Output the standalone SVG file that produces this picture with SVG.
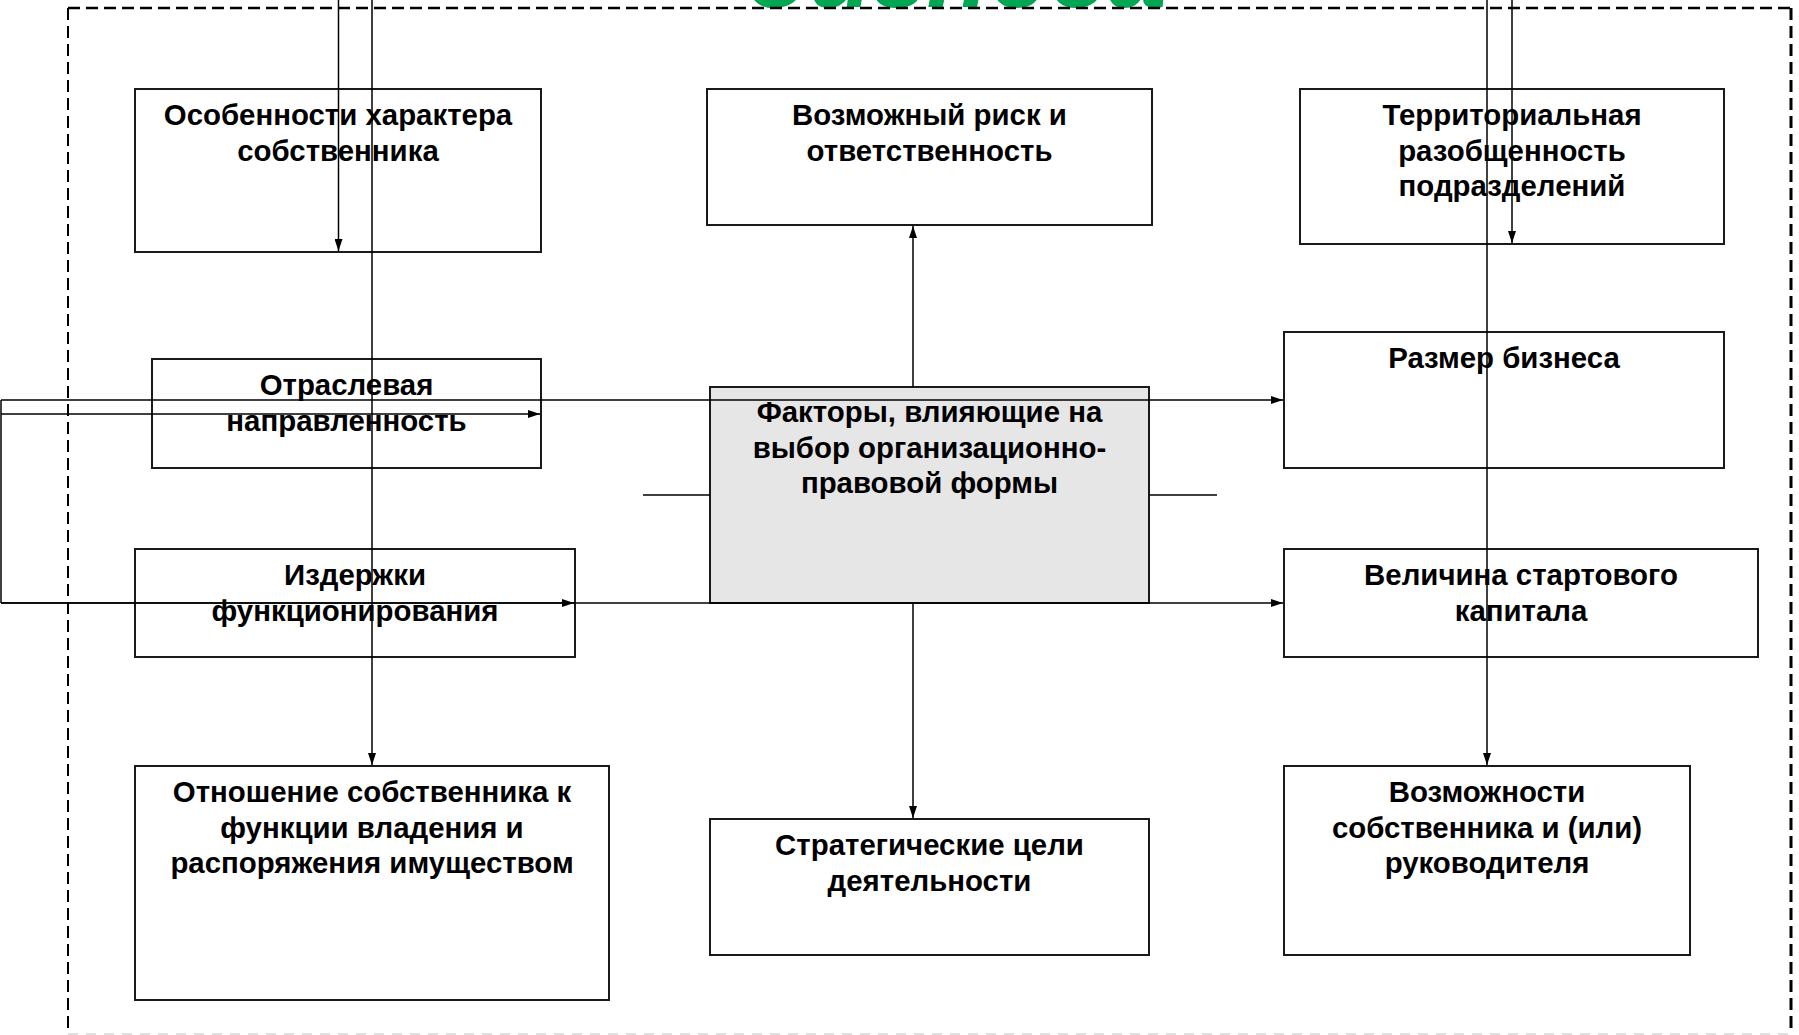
<svg xmlns="http://www.w3.org/2000/svg" width="1799" height="1035" viewBox="0 0 1799 1035">
<style>
.box{fill:#fff;stroke:#1a1a1a;stroke-width:2}
.core{fill:#e6e6e6;stroke:#1a1a1a;stroke-width:2}
.t{font-family:"Liberation Sans",Arial,sans-serif;font-weight:bold;font-size:29.4px;fill:#000;text-anchor:middle}
.c{fill:none;stroke:#000;stroke-width:1.5}
.b{fill:none;stroke:#000;stroke-dasharray:12 6}
</style>
<defs>
<marker id="ah" markerUnits="userSpaceOnUse" markerWidth="12" markerHeight="8" refX="12" refY="4" orient="auto">
<path d="M0,0 L12,4 L0,8 z" fill="#000"/>
</marker>
</defs>
<rect width="1799" height="1035" fill="#fff"/>
<text x="955" y="6.5" font-family="Liberation Sans,Arial,sans-serif" font-weight="bold" font-style="italic" font-size="105" fill="#00a651" text-anchor="middle">бизнеса</text>
<g id="border">
<line class="b" x1="68" y1="8" x2="1791" y2="8" stroke-width="2.5"/>
<line class="b" x1="68" y1="8" x2="68" y2="1034" stroke-width="2"/>
<line class="b" x1="1791" y1="8" x2="1791" y2="1034" stroke-width="3"/>
<line x1="68" y1="1034" x2="1791" y2="1034" stroke="#e0e0e0" stroke-width="2" stroke-dasharray="10 8"/>
</g>
<g id="n-owner-character">
<rect class="box" x="135" y="89" width="406" height="163"/>
<text class="t" x="338" y="125">Особенности характера</text>
<text class="t" x="338" y="160.5">собственника</text>
</g>
<g id="n-risk">
<rect class="box" x="707" y="89" width="445" height="136"/>
<text class="t" x="929.5" y="125">Возможный риск и</text>
<text class="t" x="929.5" y="160.5">ответственность</text>
</g>
<g id="n-territory">
<rect class="box" x="1300" y="89" width="424" height="155"/>
<text class="t" x="1512" y="125">Территориальная</text>
<text class="t" x="1512" y="160.5">разобщенность</text>
<text class="t" x="1512" y="196">подразделений</text>
</g>
<g id="n-industry">
<rect class="box" x="152" y="359" width="389" height="109"/>
<text class="t" x="346.5" y="395">Отраслевая</text>
<text class="t" x="346.5" y="430.5">направленность</text>
</g>
<g id="n-center">
<rect class="core" x="710" y="387" width="439" height="216"/>
<text class="t" x="929.5" y="422">Факторы, влияющие на</text>
<text class="t" x="929.5" y="457.5">выбор организационно-</text>
<text class="t" x="929.5" y="493">правовой формы</text>
</g>
<g id="n-size">
<rect class="box" x="1284" y="332" width="440" height="136"/>
<text class="t" x="1504" y="368">Размер бизнеса</text>
</g>
<g id="n-costs">
<rect class="box" x="135" y="549" width="440" height="108"/>
<text class="t" x="355" y="585">Издержки</text>
<text class="t" x="355" y="620.5">функционирования</text>
</g>
<g id="n-capital">
<rect class="box" x="1284" y="549" width="474" height="108"/>
<text class="t" x="1521" y="585">Величина стартового</text>
<text class="t" x="1521" y="620.5">капитала</text>
</g>
<g id="n-attitude">
<rect class="box" x="135" y="766" width="474" height="234"/>
<text class="t" x="372" y="802">Отношение собственника к</text>
<text class="t" x="372" y="837.5">функции владения и</text>
<text class="t" x="372" y="873">распоряжения имуществом</text>
</g>
<g id="n-goals">
<rect class="box" x="710" y="819" width="439" height="136"/>
<text class="t" x="929.5" y="855">Стратегические цели</text>
<text class="t" x="929.5" y="890.5">деятельности</text>
</g>
<g id="n-abilities">
<rect class="box" x="1284" y="766" width="406" height="189"/>
<text class="t" x="1487" y="802">Возможности</text>
<text class="t" x="1487" y="837.5">собственника и (или)</text>
<text class="t" x="1487" y="873">руководителя</text>
</g>
<g id="connectors">
<path class="c" d="M338.5,0 V251" marker-end="url(#ah)"/>
<path class="c" d="M372,0 V765" marker-end="url(#ah)"/>
<path class="c" d="M1487,0 V765" marker-end="url(#ah)"/>
<path class="c" d="M1512,0 V243" marker-end="url(#ah)"/>
<path class="c" d="M913,387 V226" marker-end="url(#ah)"/>
<path class="c" d="M913,603 V818" marker-end="url(#ah)"/>
<path class="c" d="M1,400 H1283" marker-end="url(#ah)"/>
<path class="c" d="M1,400 V603"/>
<path class="c" d="M1,603 H1283" marker-end="url(#ah)"/>
<path class="c" d="M1,414 H540" marker-end="url(#ah)"/>
<path class="c" d="M1,603 H574" marker-end="url(#ah)"/>
<path class="c" d="M643,495 H710" stroke-width="2"/>
<path class="c" d="M1149,495 H1217" stroke-width="2"/>
</g>
</svg>
